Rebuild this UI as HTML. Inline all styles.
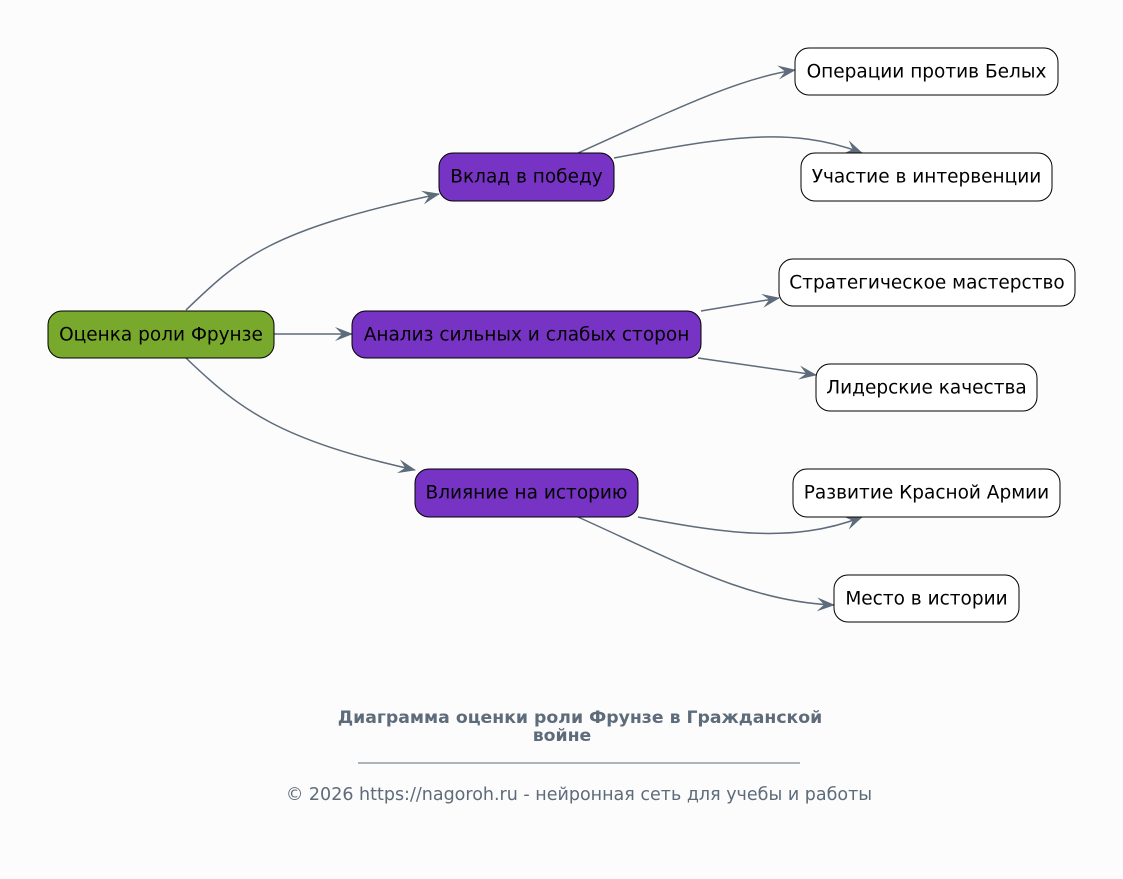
<!DOCTYPE html>
<html><head><meta charset="utf-8"><style>
html,body{margin:0;padding:0;background:#fcfcfc;}
svg{display:block;font-family:"DejaVu Sans","Liberation Sans",sans-serif;}
</style></head><body>
<svg width="1123" height="879" viewBox="0 0 1123 879" xmlns="http://www.w3.org/2000/svg">
<defs>
<marker id="a" viewBox="0 0 18 14" refX="17" refY="7" markerWidth="18" markerHeight="14" markerUnits="userSpaceOnUse" orient="auto">
<path d="M0,0 L18,7 L0,14 L7,7 z" fill="#5d6b7a"/>
</marker>
</defs>
<g fill="none" stroke="#5d6b7a" stroke-width="1.5" marker-end="url(#a)">
<path d="M186,310 C240,258 270,230 439,194"/>
<path d="M274,334 L352,334"/>
<path d="M186,358 C240,410 280,440 415,470"/>
<path d="M578,153 C680,107 740,78 795,70"/>
<path d="M614,158 C720,138 790,125 862,153"/>
<path d="M701,311 L779,298"/>
<path d="M698,358 L816,375"/>
<path d="M638,517 C720,532 790,545 862,517"/>
<path d="M578,517 C680,563 750,602 834,605"/>
</g>
<g stroke="#000" stroke-width="1">
<rect x="48" y="311" width="226" height="47" rx="14" fill="#78a92c"/>
<rect x="439" y="153" width="175" height="48" rx="14" fill="#7733c4"/>
<rect x="352" y="311" width="349" height="47" rx="14" fill="#7733c4"/>
<rect x="415" y="469" width="223" height="48" rx="14" fill="#7733c4"/>
<rect x="795" y="48" width="263" height="47" rx="14" fill="#fff"/>
<rect x="801" y="153" width="251" height="48" rx="14" fill="#fff"/>
<rect x="779" y="259" width="296" height="47" rx="14" fill="#fff"/>
<rect x="816" y="364" width="221" height="47" rx="14" fill="#fff"/>
<rect x="793" y="469" width="267" height="48" rx="14" fill="#fff"/>
<rect x="834" y="575" width="185" height="47" rx="14" fill="#fff"/>
</g>
<g font-size="18.5" fill="#000" text-anchor="middle">
<text x="161" y="340.5">Оценка роли Фрунзе</text>
<text x="526.5" y="182.5">Вклад в победу</text>
<text x="526.5" y="340.5">Анализ сильных и слабых сторон</text>
<text x="526.5" y="498.5">Влияние на историю</text>
<text x="926.5" y="77.5">Операции против Белых</text>
<text x="926.5" y="182.5">Участие в интервенции</text>
<text x="927" y="288.5">Стратегическое мастерство</text>
<text x="926.5" y="393.5">Лидерские качества</text>
<text x="926.5" y="498.5">Развитие Красной Армии</text>
<text x="926.5" y="604.5">Место в истории</text>
</g>
<g fill="#5d6b7a" text-anchor="middle">
<text x="580" y="723" font-size="17.3" font-weight="bold">Диаграмма оценки роли Фрунзе в Гражданской</text>
<text x="562" y="741" font-size="17.3" font-weight="bold">войне</text>
<line x1="358" y1="763" x2="800" y2="763" stroke="#5d6b7a" stroke-width="1"/>
<text x="579" y="800" font-size="17.5">© 2026 https://nagoroh.ru - нейронная сеть для учебы и работы</text>
</g>
</svg>
</body></html>
